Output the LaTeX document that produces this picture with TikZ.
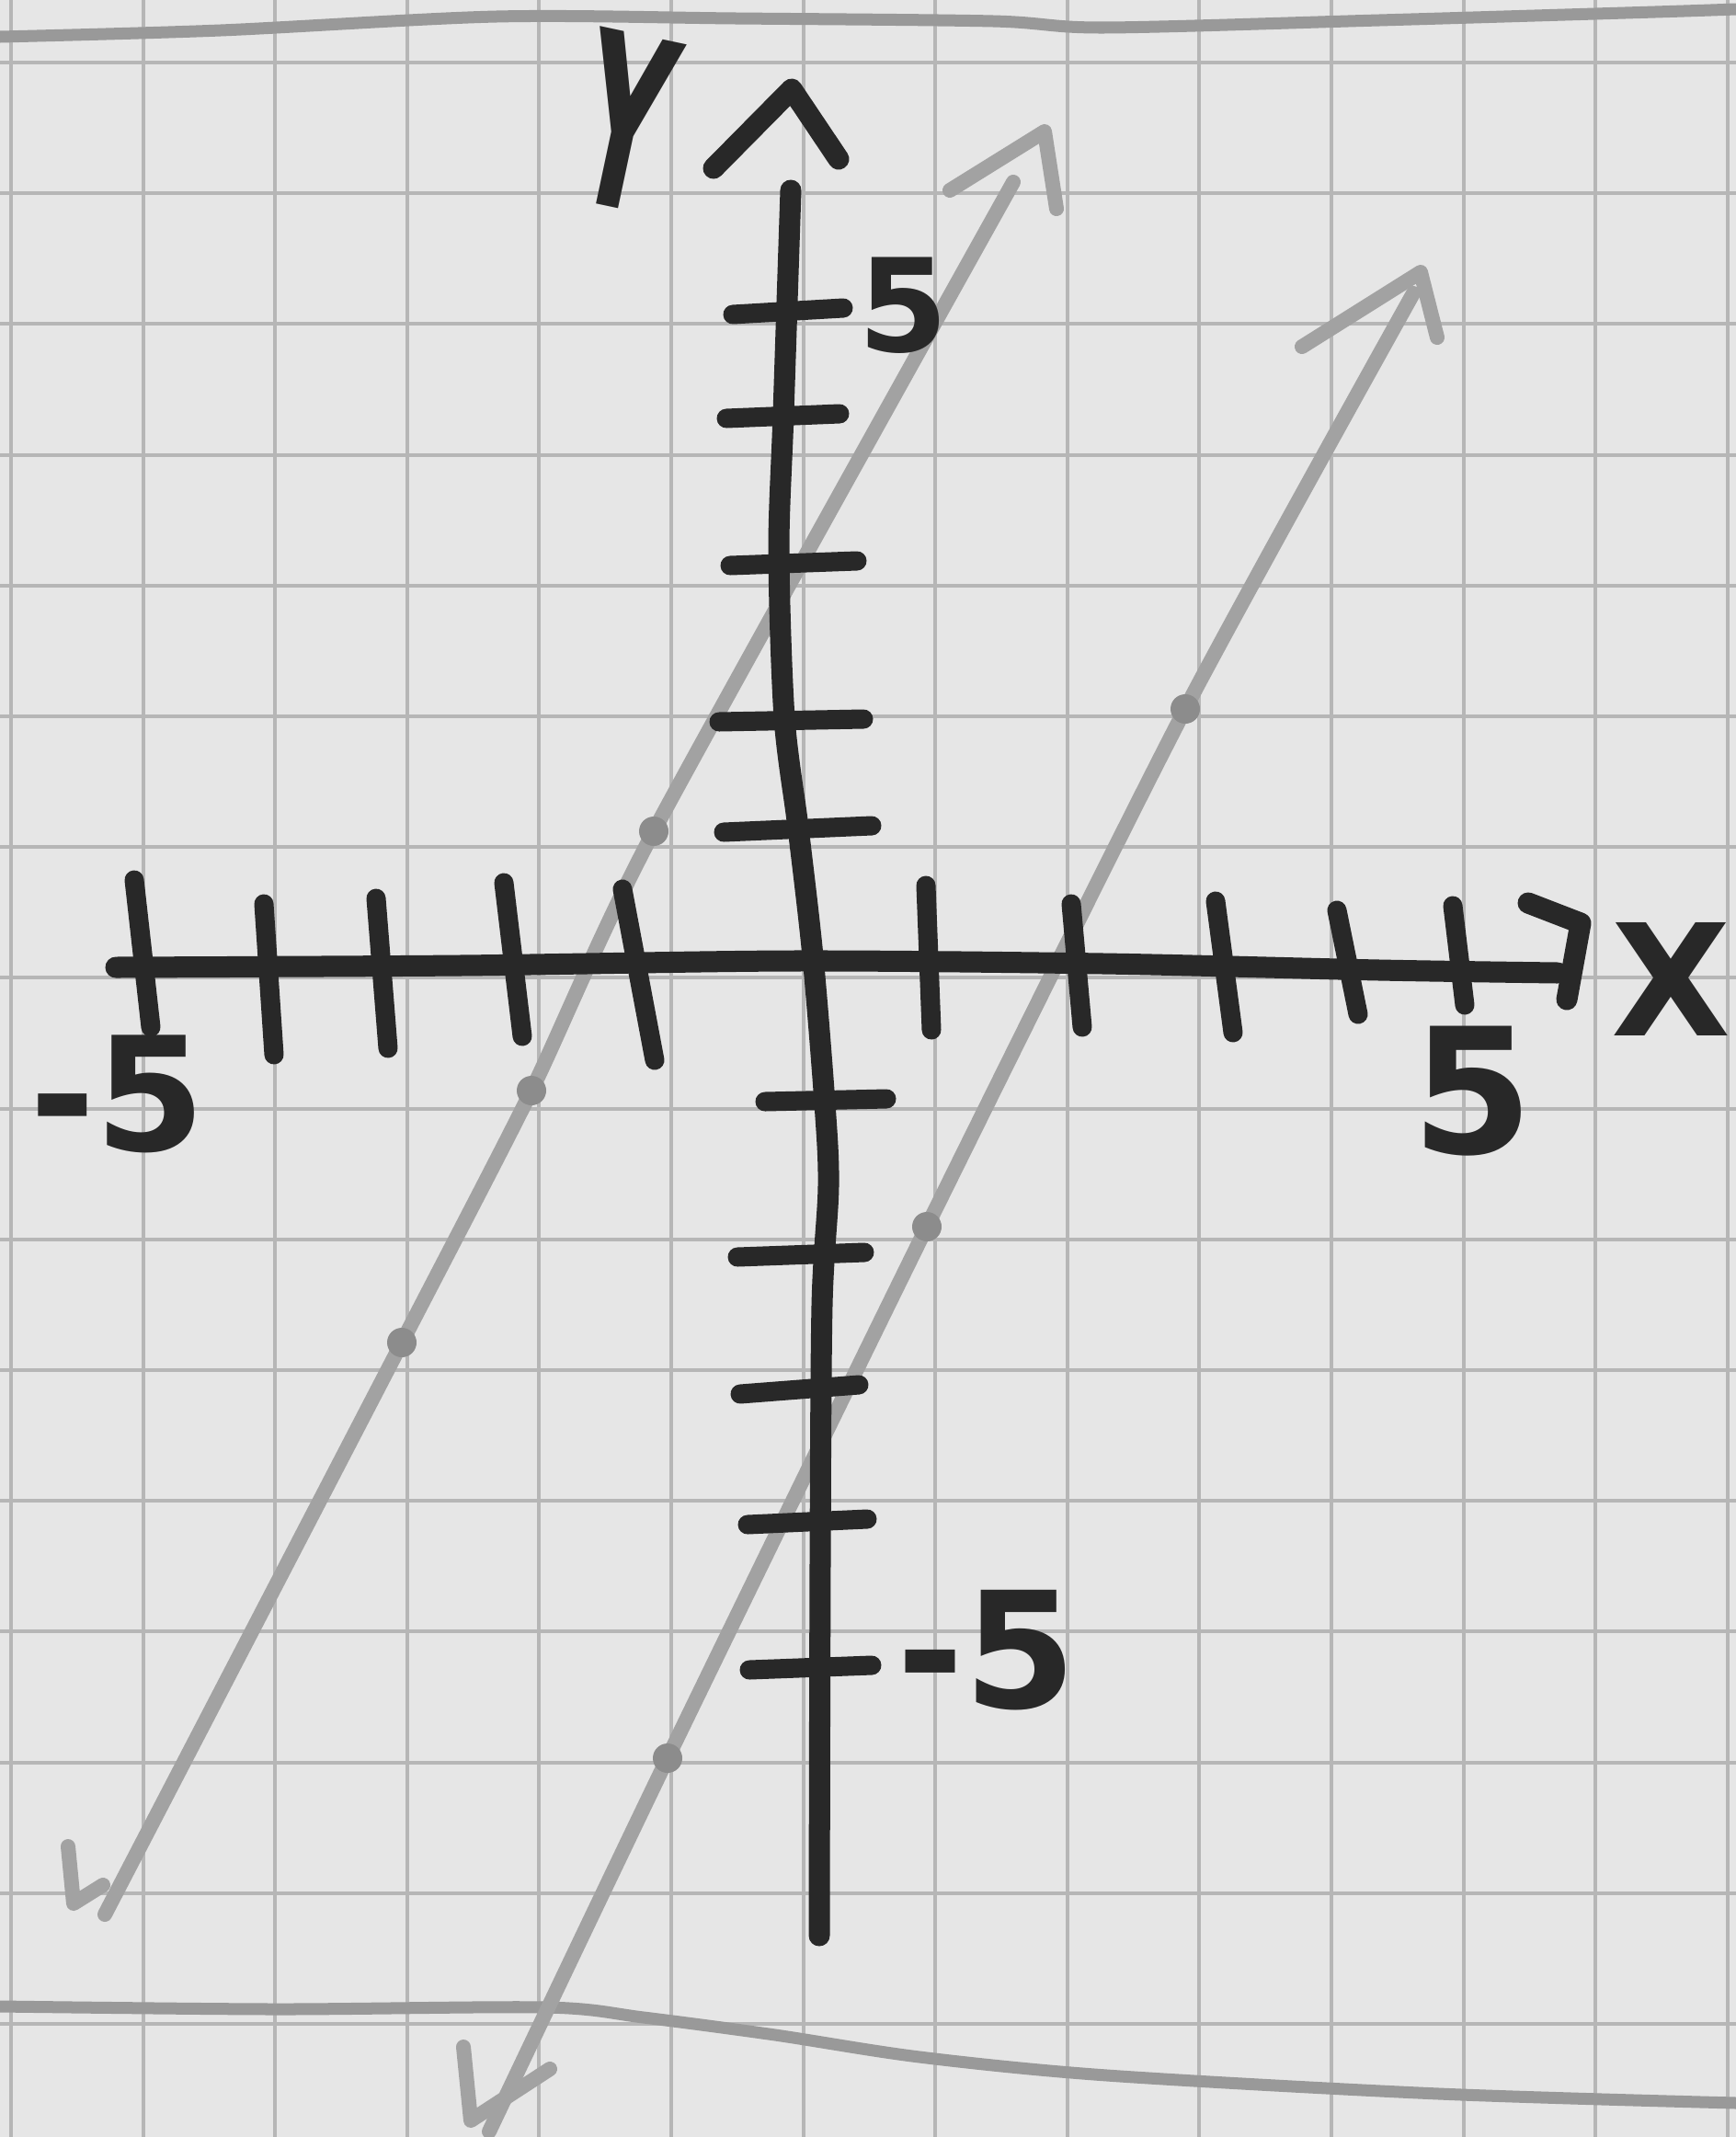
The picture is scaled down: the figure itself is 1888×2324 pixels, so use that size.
\documentclass[tikz,border=0pt]{standalone}
\usepackage{fontspec}
\setmainfont{DejaVu Sans}
\definecolor{paperc}{HTML}{E6E6E6}
\definecolor{gridc}{HTML}{B6B6B6}
\definecolor{marginc}{HTML}{999999}
\definecolor{inkc}{HTML}{282828}
\definecolor{graphc}{HTML}{A2A2A2}
\definecolor{dotc}{HTML}{8C8C8C}
\begin{document}
\begin{tikzpicture}[x=0.01cm,y=-0.01cm,
  gridline/.style={draw=gridc,line width=0.04cm},
  margin/.style={draw=marginc,line width=0.13cm,line cap=round,line join=round},
  ink/.style={draw=inkc,line width=0.23cm,line cap=round,line join=round},
  tickmark/.style={draw=inkc,line width=0.21cm,line cap=round},
  graphline/.style={draw=graphc,line width=0.16cm,line cap=round,line join=round},
  ptdot/.style={fill=dotc,draw=none},
  lbl/.style={text=inkc,inner sep=0pt}]
\useasboundingbox (0,0) rectangle (1888,2324);
\fill[paperc] (0,0) rectangle (1888,2324);
% grid
\foreach \i in {0,...,13} \draw[gridline] ({12+143.6*\i},0) -- ({12+143.6*\i},2324);
\foreach \j in {0,...,15} \draw[gridline] (0,{68+142.2*\j}) -- (1888,{68+142.2*\j});
% margin lines of the paper
\draw[margin] plot[smooth] coordinates {(0,40) (240,33) (540,18) (800,20) (1080,23) (1200,30) (1500,22) (1800,13) (1888,10)};
\draw[margin] plot[smooth] coordinates {(0,2182) (300,2185) (594,2183) (700,2194) (843,2213) (1000,2237) (1204,2257) (1565,2277) (1888,2287)};
% graph line 1
\draw[graphline] plot[smooth,tension=0.4] coordinates {(1102,198) (711,904) (578,1186) (437,1460) (114,2082)};
\draw[graphline] (1033,207) -- (1136,143) -- (1149,227);
\draw[graphline] (74,2008) -- (80,2070) -- (112,2050);
% graph line 2
\draw[graphline] plot[smooth,tension=0.4] coordinates {(1537,319) (1289,771) (1008,1334) (726,1912) (532,2318)};
\draw[graphline] (1416,377) -- (1545,296) -- (1563,367);
\draw[graphline] (504,2226) -- (512,2306) -- (598,2250);
% plotted points
\foreach \p in {(1289,771),(1008,1334),(726,1912),(711,904),(578,1186),(437,1460)} \fill[ptdot] \p circle (16);
% axes
\draw[ink] plot[smooth] coordinates {(126,1052) (500,1050) (861,1045) (1200,1048) (1500,1055) (1694,1058)};
\draw[ink] (1662,982) -- (1719,1004) -- (1704,1087);
\draw[ink] plot[smooth] coordinates {(860,207) (852,450) (847,600) (853,780) (868,900) (884,1040) (897,1200) (901,1290) (894,1420) (892,1700) (891,2105)};
\draw[ink] (776,183) -- (861,97) -- (912,173);
% x ticks
\draw[tickmark] (146,957) -- (164,1117);
\draw[tickmark] (287,983) -- (298,1147);
\draw[tickmark] (409,977) -- (422,1140);
\draw[tickmark] (548,960) -- (568,1127);
\draw[tickmark] (677,967) -- (712,1153);
\draw[tickmark] (1007,963) -- (1013,1120);
\draw[tickmark] (1165,983) -- (1177,1117);
\draw[tickmark] (1322,980) -- (1341,1123);
\draw[tickmark] (1454,990) -- (1477,1103);
\draw[tickmark] (1580,985) -- (1593,1093);
% y ticks
\draw[tickmark] (797,342) -- (917,335);
\draw[tickmark] (790,455) -- (913,450);
\draw[tickmark] (794,615) -- (932,610);
\draw[tickmark] (782,785) -- (939,782);
\draw[tickmark] (787,905) -- (948,898);
\draw[tickmark] (832,1198) -- (964,1195);
\draw[tickmark] (802,1367) -- (940,1362);
\draw[tickmark] (805,1516) -- (934,1506);
\draw[tickmark] (813,1658) -- (943,1652);
\draw[tickmark] (815,1816) -- (948,1811);
% labels
\node[lbl,font=\bfseries\fontsize{74}{74}\selectfont,rotate=-12] (ylab) at (680,132) {\scalebox{0.5}[1]{Y}};
\node[lbl,font=\bfseries\fontsize{48}{48}\selectfont] (xlab) at (1818,1065) {X};
\node[lbl,font=\bfseries\fontsize{40}{40}\selectfont] (ytop) at (982,332) {5};
\node[lbl,font=\bfseries\fontsize{49}{49}\selectfont] (xleft) at (128,1190) {-5};
\node[lbl,font=\bfseries\fontsize{54}{54}\selectfont] (xright) at (1602,1187) {5};
\node[lbl,font=\bfseries\fontsize{50}{50}\selectfont] (ybot) at (1073,1795) {-5};
\end{tikzpicture}
\end{document}
